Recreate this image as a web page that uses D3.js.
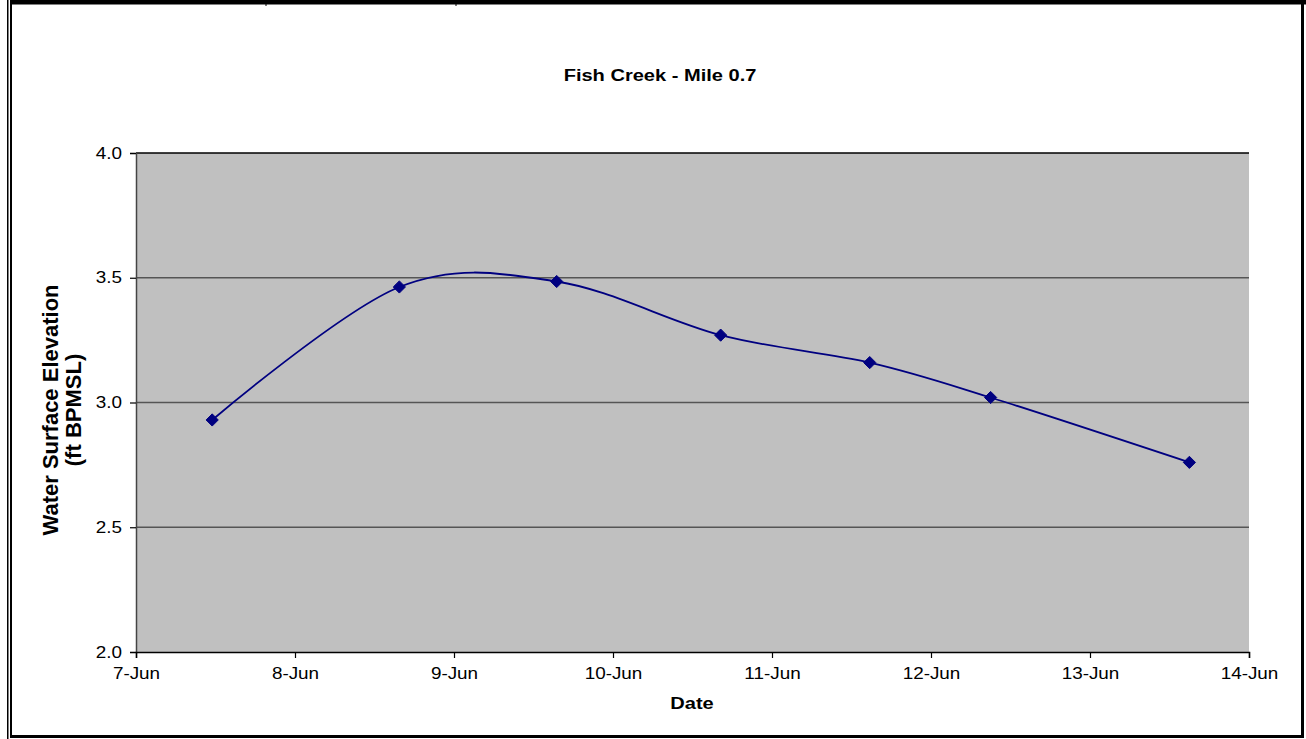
<!DOCTYPE html>
<html><head><meta charset="utf-8">
<script src="https://cdn.jsdelivr.net/npm/d3@7"></script>
<style>html,body{margin:0;padding:0;background:#fff;} svg{display:block;font-family:"Liberation Sans",Arial,sans-serif;}</style>
</head><body>
<svg id="c" width="1306" height="739"></svg>
<script>
// ---- data ----
const title = "Fish Creek - Mile 0.7";
const yLabelLines = ["Water Surface Elevation", "(ft BPMSL)"];
const xLabel = "Date";
const times = ["2000-06-07T11:30","2000-06-08T15:45","2000-06-09T15:30","2000-06-10T16:15","2000-06-11T14:45","2000-06-12T09:00","2000-06-13T15:00"];
const elevations = [2.93, 3.463, 3.485, 3.27, 3.16, 3.02, 2.76];
const xTickDates = ["2000-06-07","2000-06-08","2000-06-09","2000-06-10","2000-06-11","2000-06-12","2000-06-13","2000-06-14"];
const yTicks = [2.0, 2.5, 3.0, 3.5, 4.0];

const parseT = d3.utcParse("%Y-%m-%dT%H:%M");
const parseD = d3.utcParse("%Y-%m-%d");
const data = times.map((t,i)=>({t:parseT(t), v:elevations[i]}));
const xt = xTickDates.map(parseD);

const svg = d3.select("#c");
const W=1306,H=739;
const m = {left:136, right:1249, top:153, bottom:652};
const x = d3.scaleUtc().domain([xt[0], xt[xt.length-1]]).range([m.left, m.right]);
const y = d3.scaleLinear().domain([2,4]).range([m.bottom, m.top]);
const SX = 1.18; // horizontal text stretch

// outer frame
svg.append("rect").attr("x",0).attr("y",0).attr("width",W).attr("height",H).attr("fill","#fff");
svg.append("rect").attr("x",7).attr("y",0).attr("width",1.5).attr("height",H).attr("fill","#000");
svg.append("rect").attr("x",10).attr("y",0).attr("width",2).attr("height",738).attr("fill","#000");
svg.append("rect").attr("x",10).attr("y",0).attr("width",1296).attr("height",4.5).attr("fill","#000");
svg.append("rect").attr("x",1301).attr("y",0).attr("width",3).attr("height",738).attr("fill","#000");
svg.append("rect").attr("x",10).attr("y",735).attr("width",1294).attr("height",3).attr("fill","#000");
[266,456].forEach(px=>svg.append("rect").attr("x",px-0.5).attr("y",4).attr("width",1).attr("height",2).attr("fill","#000"));

// plot area
svg.append("rect").attr("x",m.left).attr("y",m.top).attr("width",m.right-m.left).attr("height",m.bottom-m.top).attr("fill","#C0C0C0");

// gridlines
svg.append("g").selectAll("line").data(yTicks.filter(v=>v>2&&v<4)).join("line")
  .attr("x1",m.left).attr("x2",m.right).attr("y1",d=>y(d)).attr("y2",d=>y(d))
  .attr("stroke","#555").attr("stroke-width",1.5);
svg.append("line").attr("x1",m.left).attr("x2",m.right).attr("y1",y(4)).attr("y2",y(4)).attr("stroke","#000").attr("stroke-width",1.5);

// axes
const yAxis = svg.append("g").attr("transform",`translate(${m.left},0)`)
  .call(d3.axisLeft(y).tickValues(yTicks).tickFormat(d3.format(".1f")).tickSize(6).tickPadding(8));
const xAxis = svg.append("g").attr("transform",`translate(0,${m.bottom})`)
  .call(d3.axisBottom(x).tickValues(xt).tickFormat(d3.utcFormat("%-d-%b")).tickSize(6).tickPadding(10));
[yAxis,xAxis].forEach(g=>{
  g.select(".domain").attr("stroke","#000").attr("stroke-width",1.5);
  g.selectAll(".tick line").attr("stroke","#000").attr("stroke-width",1.2);
  g.selectAll(".tick text").attr("fill","#000").attr("font-size",16).attr("font-family","Liberation Sans, Arial, sans-serif");
});
yAxis.select(".domain").attr("stroke","#444");
yAxis.selectAll(".tick text").each(function(){
  const t=d3.select(this); const xx=+t.attr("x");
  t.attr("transform",`translate(${xx},0) scale(${SX},1) translate(${-xx},0)`);
});
xAxis.selectAll(".tick text").attr("transform",`scale(${SX},1)`);

// line
const line = d3.line().x(d=>x(d.t)).y(d=>y(d.v)).curve(d3.curveCatmullRom.alpha(0));
svg.append("path").datum(data).attr("d",line).attr("fill","none").attr("stroke","#000080").attr("stroke-width",1.8);
// markers
svg.append("g").selectAll("path").data(data).join("path")
  .attr("transform",d=>`translate(${x(d.t)},${y(d.v)})`)
  .attr("d",d3.symbol().type(d3.symbolDiamond2).size(95)())
  .attr("fill","#000080").attr("stroke","#000080").attr("stroke-width",1);

// title
svg.append("text").attr("transform",`translate(660,81) scale(${SX},1)`).attr("text-anchor","middle")
  .attr("font-weight","bold").attr("font-size",17).text(title);
// x label
svg.append("text").attr("transform",`translate(692,709) scale(${SX},1)`).attr("text-anchor","middle")
  .attr("font-weight","bold").attr("font-size",17).text(xLabel);
// y label
const yl = svg.append("text").attr("transform","translate(58,410) rotate(-90)").attr("text-anchor","middle")
  .attr("font-weight","bold").attr("font-size",22);
yl.selectAll("tspan").data(yLabelLines).join("tspan").attr("x",0).attr("dy",(d,i)=>i===0?0:23).text(d=>d);
</script>
</body></html>
